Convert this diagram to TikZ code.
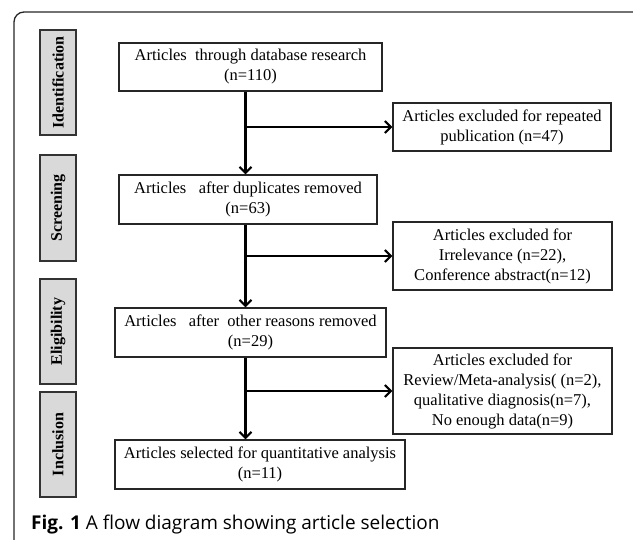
\documentclass[tikz,border=0pt]{standalone}
\usepackage{fontspec}
\setmainfont{Liberation Serif}
\newfontfamily\capfont{Open Sans}
\usetikzlibrary{arrows.meta}
\begin{document}
\begin{tikzpicture}[x=1pt,y=-1pt,
  mainbox/.style={draw=black!85, line width=1.4pt, fill=white, align=center, inner sep=0pt,
    font=\fontsize{16.5}{20}\selectfont},
  sidebox/.style={draw=black!80, line width=1.4pt, fill=black!15, inner sep=0pt,
    minimum width=36pt, minimum height=105pt},
  sidetext/.style={rotate=90, font=\fontsize{16}{18}\selectfont\bfseries, inner sep=0pt},
  flow/.style={line width=2.2pt, black},
  arr/.style={flow, -{Straight Barb[length=6pt,width=12pt,line width=2pt]}}
]
\useasboundingbox (0,0) rectangle (633,540);
% outer frame
\draw[line width=1.3pt, black!85, rounded corners=10pt] (14,560) -- (14,12) -- (643,12) -- (643,560);

% side labels
\node[sidebox] (sid) at (58,82.5) {};
\node[sidetext] at (sid.center) {Identification};
\node[sidebox, minimum height=106pt] (ssc) at (58,208) {};
\node[sidetext] at (ssc.center) {Screening};
\node[sidebox] (sel) at (58,331.5) {};
\node[sidetext] at (sel.center) {Eligibility};
\node[sidebox] (sin) at (58,444.5) {};
\node[sidetext] at (sin.center) {Inclusion};

% main boxes
\node[mainbox, minimum width=263pt, minimum height=48pt] (b1) at (250.5,67)
  {Articles\ \ through database research\\(n=110)};
\node[mainbox, minimum width=258pt, minimum height=49pt] (b2) at (248,199.5)
  {Articles\ \ \ after duplicates removed\\(n=63)};
\node[mainbox, minimum width=271pt, minimum height=49pt] (b3) at (250.5,332.5)
  {Articles\ \ \ after\ \ other reasons removed\\(n=29)};
\node[mainbox, minimum width=290pt, minimum height=49pt] (b4) at (260,464.5)
  {Articles selected for quantitative analysis\\(n=11)};

% exclusion boxes
\node[mainbox, minimum width=218pt, minimum height=48pt] (e1) at (502,127)
  {Articles excluded for repeated\\publication (n=47)};
\node[mainbox, minimum width=219pt, minimum height=68pt] (e2) at (502.5,256)
  {Articles excluded for\\Irrelevance (n=22),\\Conference abstract(n=12)};
\node[mainbox, minimum width=219pt, minimum height=86pt] (e3) at (502.5,391)
  {Articles excluded for\\Review/Meta-analysis( (n=2),\\qualitative diagnosis(n=7),\\No enough data(n=9)};

% connectors
\coordinate (ax) at (245.5,0);
\draw[arr] (b1.south -| ax) -- (b2.north -| ax);
\draw[arr] (b2.south -| ax) -- (b3.north -| ax);
\draw[arr] (b3.south -| ax) -- (b4.north -| ax);
\draw[arr] (ax |- e1.west) -- (e1.west);
\draw[arr] (ax |- e2.west) -- (e2.west);
\draw[arr] (ax |- e3.west) -- (e3.west);

% caption
\node[anchor=base west, inner sep=0pt, font=\capfont\fontsize{19}{22}\selectfont] (cap) at (31,530)
  {\textbf{Fig. 1} A flow diagram showing article selection};
\end{tikzpicture}
\end{document}
